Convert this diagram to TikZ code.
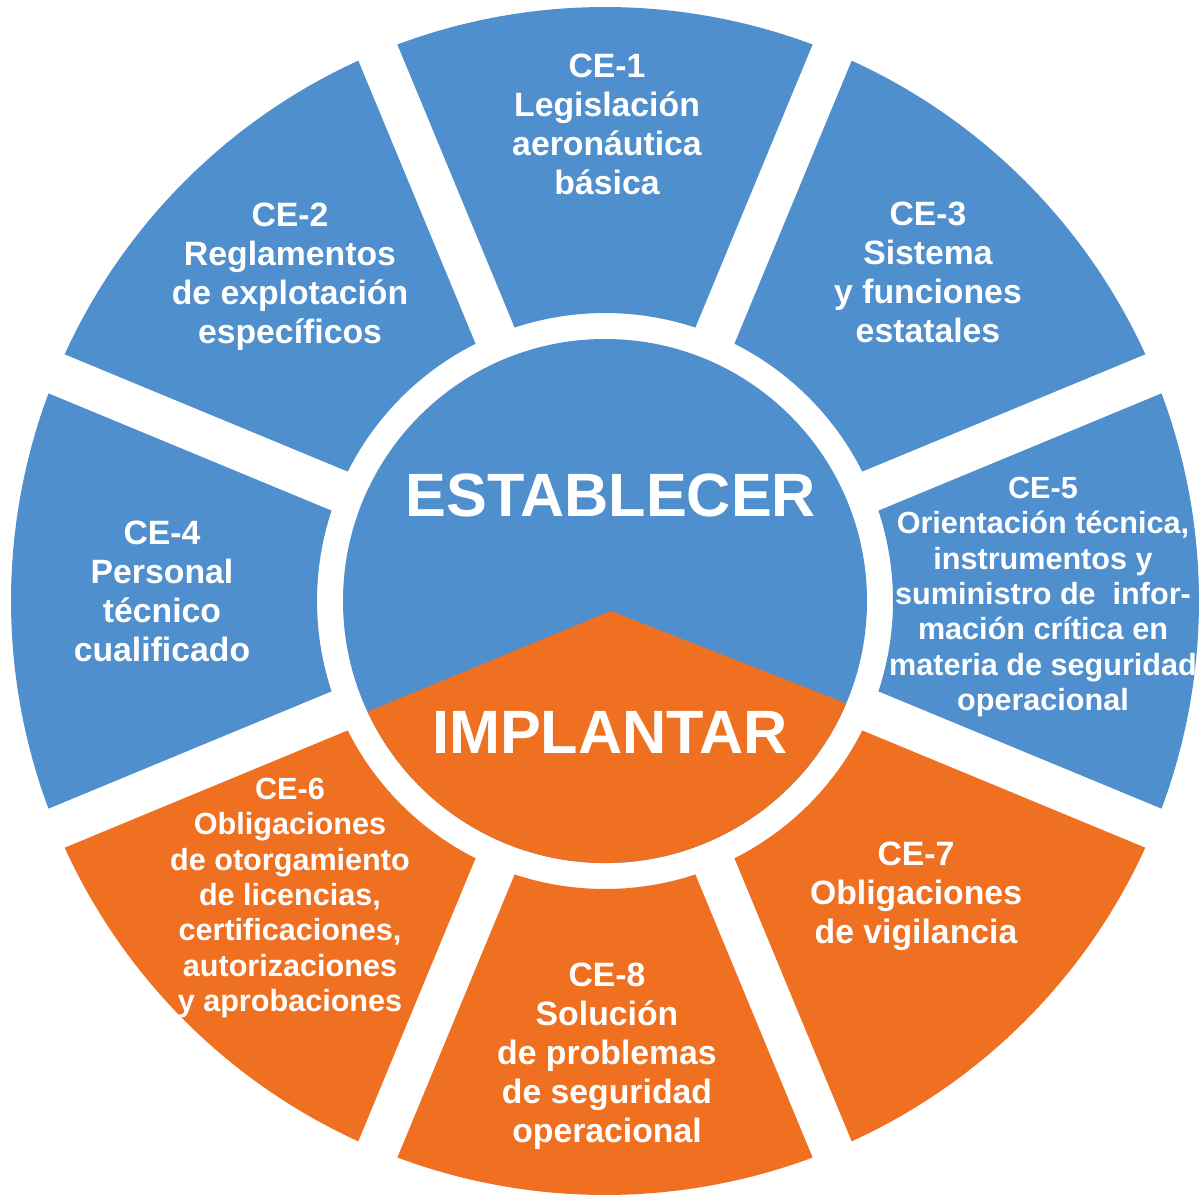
\documentclass[tikz,border=0pt]{standalone}
\usepackage{fontspec}
\setmainfont{Liberation Sans}
\definecolor{ceblue}{RGB}{79,143,205}
\definecolor{ceorange}{RGB}{240,112,34}

\begin{document}
\begin{tikzpicture}[x=0.01cm,y=0.01cm,
  lbl/.style={text=white,font=\bfseries\fontsize{9.6}{11.1}\selectfont,align=center,inner sep=0pt},
  lblsmall/.style={lbl,font=\bfseries\fontsize{8.7}{10.05}\selectfont},
  bigword/.style={text=white,font=\bfseries\fontsize{17.4}{20}\selectfont,inner sep=0pt}]

\useasboundingbox (-605,-602) rectangle (598,601);

% outer ring of sectors
\foreach \a/\c in {90/ceblue,135/ceblue,45/ceblue,180/ceblue,0/ceblue,225/ceorange,270/ceorange,315/ceorange}
  \fill[\c] ({\a-22.5}:288) arc[start angle=\a-22.5,end angle=\a+22.5,radius=288]
    -- ({\a+22.5}:594) arc[start angle=\a+22.5,end angle=\a-22.5,radius=594] -- cycle;

% white gaps
\foreach \a in {22.5,67.5,...,337.5}
  \draw[white,line width=0.42cm] (0,0) -- (\a:620);

% centre disc
\fill[ceblue] (0,0) circle (262);
\coordinate (apex) at (6,-10);
\fill[ceorange] (apex) -- (205:262) arc[start angle=205,end angle=337,radius=262] -- cycle;

\node[bigword] (est) at (6,106) {ESTABLECER};
\node[bigword] (imp) at (5,-131) {IMPLANTAR};

% labels
\node[lbl] (ce1) at (2,477) {CE-1\\Legislación\\aeronáutica\\básica};
\node[lbl] (ce2) at (-315,324) {CE-2\\Reglamentos\\de explotación\\específicos};
\node[lbl] (ce3) at (323,329) {CE-3\\Sistema\\y funciones\\estatales};
\node[lbl] (ce4) at (-443,10) {CE-4\\Personal\\técnico\\cualificado};
\node[lblsmall] (ce5) at (438,4) {CE-5\\Orientación técnica,\\instrumentos y\\suministro de~ infor-\\mación crítica en\\materia de seguridad\\operacional};
\node[lblsmall] (ce6) at (-315,-297) {CE-6\\Obligaciones\\de otorgamiento\\de licencias,\\certificaciones,\\autorizaciones\\y aprobaciones};
\node[lbl] (ce7) at (311,-295) {CE-7\\Obligaciones\\de vigilancia};
\node[lbl] (ce8) at (2,-455) {CE-8\\Solución\\de problemas\\de seguridad\\operacional};

\end{tikzpicture}
\end{document}
